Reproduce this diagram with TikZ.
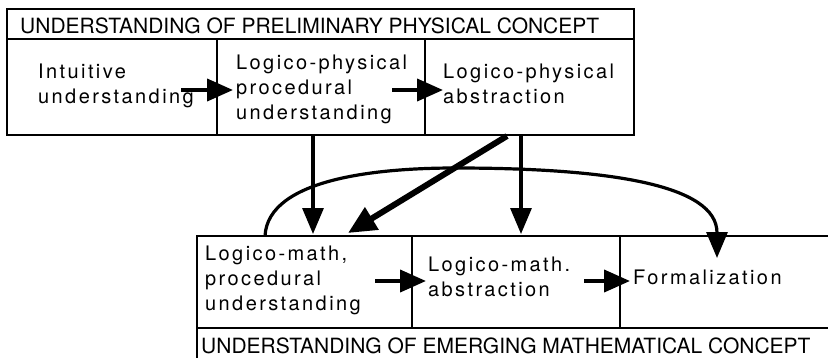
\documentclass[tikz,border=0pt]{standalone}
\usepackage{fontspec}
\setmainfont{TeX Gyre Heros}
\newfontfamily\bodyfont[LetterSpace=12]{TeX Gyre Heros}
\usetikzlibrary{arrows.meta}
\begin{document}
\begin{tikzpicture}[x=1pt,y=-1pt,
  frame/.style={draw, line width=1.9pt, inner sep=0pt, outer sep=0pt},
  hdr/.style={font=\fontsize{21}{25}\selectfont, anchor=base west, inner sep=0pt},
  txt/.style={font=\bodyfont\fontsize{20}{25}\selectfont, align=left, anchor=base west, inner sep=0pt},
  flow/.style={line width=4pt, -{Triangle[length=26pt,width=22pt]}},
  down/.style={line width=3.2pt, -{Triangle[length=26pt,width=21pt]}},
  diag/.style={line width=6pt, -{Triangle[length=28pt,width=25pt]}}]
\clip (0,0) rectangle (828,357);
% top block
\node[frame, minimum width=627pt, minimum height=30pt] (th) at (320.5,24) {};
\node[hdr] (tht) at (20,33) {UNDERSTANDING OF PRELIMINARY PHYSICAL CONCEPT};
\node[frame, minimum width=210pt, minimum height=96pt] (b1) at (112,87) {};
\node[frame, minimum width=208pt, minimum height=96pt] (b2) at (321,87) {};
\node[frame, minimum width=209pt, minimum height=96pt] (b3) at (529.5,87) {};
% multi-line nodes: base anchor = baseline of last line
\node[txt] (t1) at (38,103) {Intuitive\\understanding};
\node[txt] (t2) at (236,119) {Logico-physical\\procedural\\understanding};
\node[txt] (t3) at (443,103) {Logico-physical\\abstraction};
% bottom block
\node[frame, minimum width=215pt, minimum height=92pt] (c1) at (304.5,282) {};
\node[frame, minimum width=208pt, minimum height=92pt] (c2) at (516,282) {};
\node[frame, minimum width=220pt, minimum height=92pt] (c3) at (730,282) {};
\node[frame, line width=2.4pt, minimum width=643pt, minimum height=42pt] (bh) at (518.5,349) {};
\node[hdr] (bht) at (201,353) {UNDERSTANDING OF EMERGING MATHEMATICAL CONCEPT};
\node[txt] (u1) at (205,310) {Logico-math,\\procedural\\understanding};
\node[txt] (u2) at (428,296) {Logico-math.\\abstraction};
\node[txt] (u3) at (633,284) {Formalization};
% connector coordinates
\coordinate (a1s) at (181,90);  \coordinate (a1e) at (233,90);
\coordinate (a2s) at (392,90);  \coordinate (a2e) at (443,90);
\coordinate (d1s) at (375,281); \coordinate (d1e) at (426,281);
\coordinate (d2s) at (584,281); \coordinate (d2e) at (630,281);
\coordinate (vAs) at (313,135); \coordinate (vAe) at (313,234);
\coordinate (vCs) at (521,135); \coordinate (vCe) at (521,234);
\coordinate (dgs) at (507,136); \coordinate (dge) at (348,233);
\coordinate (cvs) at (265,236); \coordinate (cvp) at (455,168); \coordinate (cve) at (717,258);
% connectors
\draw[flow] (a1s) -- (a1e);
\draw[flow] (a2s) -- (a2e);
\draw[flow] (d1s) -- (d1e);
\draw[flow] (d2s) -- (d2e);
\draw[down] (vAs) -- (vAe);
\draw[down] (vCs) -- (vCe);
\draw[diag] (dgs) -- (dge);
\draw[down] (cvs) .. controls (268,178) and (380,168) .. (cvp) .. controls (610,168) and (717,185) .. (cve);
\end{tikzpicture}
\end{document}
